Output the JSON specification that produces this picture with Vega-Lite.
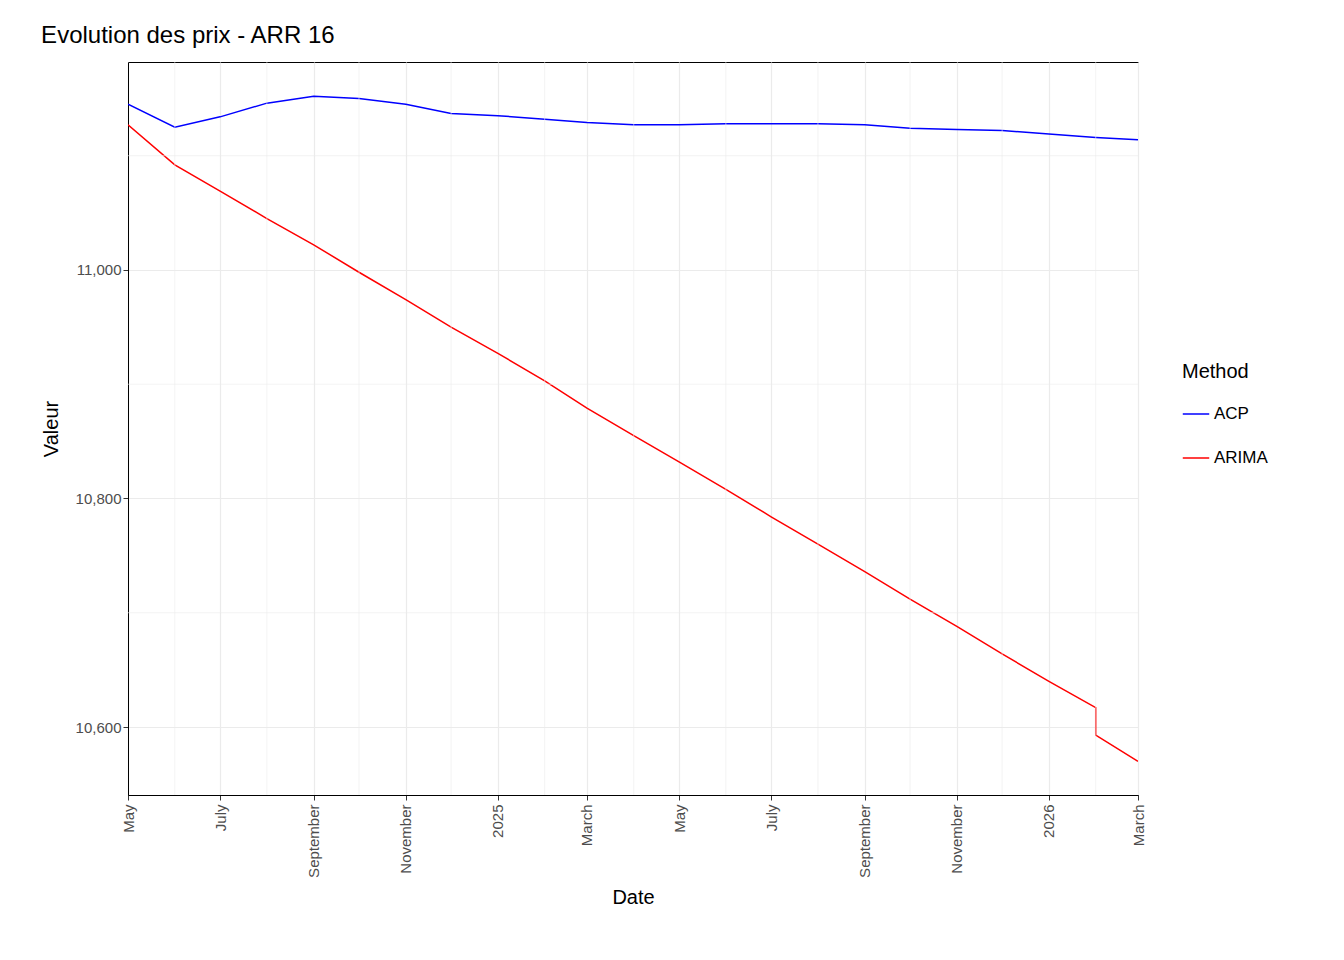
{
"$schema":"https://vega.github.io/schema/vega-lite/v6.json",
"width":1010,"height":733,
"autosize":{"type":"none"},
"padding":{"left":128,"top":62,"right":206,"bottom":165},
"background":"white",
"title":{"text":"Evolution des prix - ARR 16","anchor":"start","font":"Arial","fontSize":24,"fontWeight":"normal","color":"black","offset":14,"dx":0},
"config":{"view":{"stroke":"black","strokeWidth":1},"font":"Arial"},
"datasets":{
"minx":[{"d":"2024-06-01"},{"d":"2024-08-01"},{"d":"2024-10-01"},{"d":"2024-12-01"},{"d":"2025-02-01"},{"d":"2025-04-01"},{"d":"2025-06-01"},{"d":"2025-08-01"},{"d":"2025-10-01"},{"d":"2025-12-01"},{"d":"2026-02-01"}],
"miny":[{"v":10700},{"v":10900},{"v":11100}],
"main":[
{"Date":"2024-05-01","Valeur":11145,"Method":"ACP","o":1},
{"Date":"2024-06-01","Valeur":11125,"Method":"ACP","o":2},
{"Date":"2024-07-01","Valeur":11134,"Method":"ACP","o":3},
{"Date":"2024-08-01","Valeur":11146,"Method":"ACP","o":4},
{"Date":"2024-09-01","Valeur":11152,"Method":"ACP","o":5},
{"Date":"2024-10-01","Valeur":11150,"Method":"ACP","o":6},
{"Date":"2024-11-01","Valeur":11145,"Method":"ACP","o":7},
{"Date":"2024-12-01","Valeur":11137,"Method":"ACP","o":8},
{"Date":"2025-01-01","Valeur":11135,"Method":"ACP","o":9},
{"Date":"2025-02-01","Valeur":11132,"Method":"ACP","o":10},
{"Date":"2025-03-01","Valeur":11129,"Method":"ACP","o":11},
{"Date":"2025-04-01","Valeur":11127,"Method":"ACP","o":12},
{"Date":"2025-05-01","Valeur":11127,"Method":"ACP","o":13},
{"Date":"2025-06-01","Valeur":11128,"Method":"ACP","o":14},
{"Date":"2025-07-01","Valeur":11128,"Method":"ACP","o":15},
{"Date":"2025-08-01","Valeur":11128,"Method":"ACP","o":16},
{"Date":"2025-09-01","Valeur":11127,"Method":"ACP","o":17},
{"Date":"2025-10-01","Valeur":11124,"Method":"ACP","o":18},
{"Date":"2025-11-01","Valeur":11123,"Method":"ACP","o":19},
{"Date":"2025-12-01","Valeur":11122,"Method":"ACP","o":20},
{"Date":"2026-01-01","Valeur":11119,"Method":"ACP","o":21},
{"Date":"2026-02-01","Valeur":11116,"Method":"ACP","o":22},
{"Date":"2026-03-01","Valeur":11114,"Method":"ACP","o":23},
{"Date":"2024-05-01","Valeur":11127,"Method":"ARIMA","o":1},
{"Date":"2024-06-01","Valeur":11092,"Method":"ARIMA","o":2},
{"Date":"2024-07-01","Valeur":11069,"Method":"ARIMA","o":3},
{"Date":"2024-08-01","Valeur":11045,"Method":"ARIMA","o":4},
{"Date":"2024-09-01","Valeur":11022,"Method":"ARIMA","o":5},
{"Date":"2024-10-01","Valeur":10998,"Method":"ARIMA","o":6},
{"Date":"2024-11-01","Valeur":10974,"Method":"ARIMA","o":7},
{"Date":"2024-12-01","Valeur":10950,"Method":"ARIMA","o":8},
{"Date":"2025-01-01","Valeur":10927,"Method":"ARIMA","o":9},
{"Date":"2025-02-01","Valeur":10903,"Method":"ARIMA","o":10},
{"Date":"2025-03-01","Valeur":10879,"Method":"ARIMA","o":11},
{"Date":"2025-04-01","Valeur":10855,"Method":"ARIMA","o":12},
{"Date":"2025-05-01","Valeur":10832,"Method":"ARIMA","o":13},
{"Date":"2025-06-01","Valeur":10808,"Method":"ARIMA","o":14},
{"Date":"2025-07-01","Valeur":10784,"Method":"ARIMA","o":15},
{"Date":"2025-08-01","Valeur":10760,"Method":"ARIMA","o":16},
{"Date":"2025-09-01","Valeur":10736,"Method":"ARIMA","o":17},
{"Date":"2025-10-01","Valeur":10712,"Method":"ARIMA","o":18},
{"Date":"2025-11-01","Valeur":10688,"Method":"ARIMA","o":19},
{"Date":"2025-12-01","Valeur":10664,"Method":"ARIMA","o":20},
{"Date":"2026-01-01","Valeur":10640,"Method":"ARIMA","o":21},
{"Date":"2026-02-01","Valeur":10617,"Method":"ARIMA","o":22},
{"Date":"2026-02-01","Valeur":10593,"Method":"ARIMA","o":23},
{"Date":"2026-03-01","Valeur":10570,"Method":"ARIMA","o":24}
]},
"layer":[
{"data":{"name":"main"},"mark":{"type":"line","strokeWidth":1.5,"clip":true},
 "encoding":{
 "x":{"field":"Date","type":"temporal","title":"Date","scale":{"type":"utc","domain":["2024-05-01","2026-03-01"]},
  "axis":{"values":["2024-05-01","2024-07-01","2024-09-01","2024-11-01","2025-01-01","2025-03-01","2025-05-01","2025-07-01","2025-09-01","2025-11-01","2026-01-01","2026-03-01"],
   "format":"%b %Y","formatType":"utc","labelAngle":-90,"labelAlign":"right","labelBaseline":"middle","labelFontSize":15,"labelColor":"#4d4d4d","titleFontSize":20,"titleFontWeight":"normal","titleColor":"black","gridColor":"#ebebeb","gridWidth":1.2,"domainColor":"black","tickColor":"#333333","labelPadding":4,"titlePadding":10,"labelFlush":false,"zindex":0}},
 "y":{"field":"Valeur","type":"quantitative","title":"Valeur","scale":{"domain":[10540.5,11182],"nice":false,"zero":false},
  "axis":{"values":[10600,10800,11000],"labelFontSize":15,"labelColor":"#4d4d4d","titleFontSize":20,"titleFontWeight":"normal","titleColor":"black","gridColor":"#ebebeb","gridWidth":1.2,"domainColor":"black","tickColor":"#333333","titlePadding":14,"zindex":0}},
 "color":{"field":"Method","type":"nominal","scale":{"domain":["ACP","ARIMA"],"range":["blue","red"]},
  "legend":{"title":"Method","orient":"none","legendX":1054,"legendY":300,"titleFontSize":20,"titleFontWeight":"normal","titleColor":"black","labelFontSize":17,"labelColor":"black","symbolType":"stroke","symbolSize":700,"symbolStrokeWidth":1.5,"rowPadding":22,"padding":0,"titlePadding":18}},
 "order":{"field":"o","type":"quantitative"}
 }},
{"data":{"name":"minx"},"mark":{"type":"rule","color":"#ebebeb","strokeWidth":0.6},
 "encoding":{"x":{"field":"d","type":"temporal"}}},
{"data":{"name":"miny"},"mark":{"type":"rule","color":"#ebebeb","strokeWidth":0.6},
 "encoding":{"y":{"field":"v","type":"quantitative"}}}
]
}
